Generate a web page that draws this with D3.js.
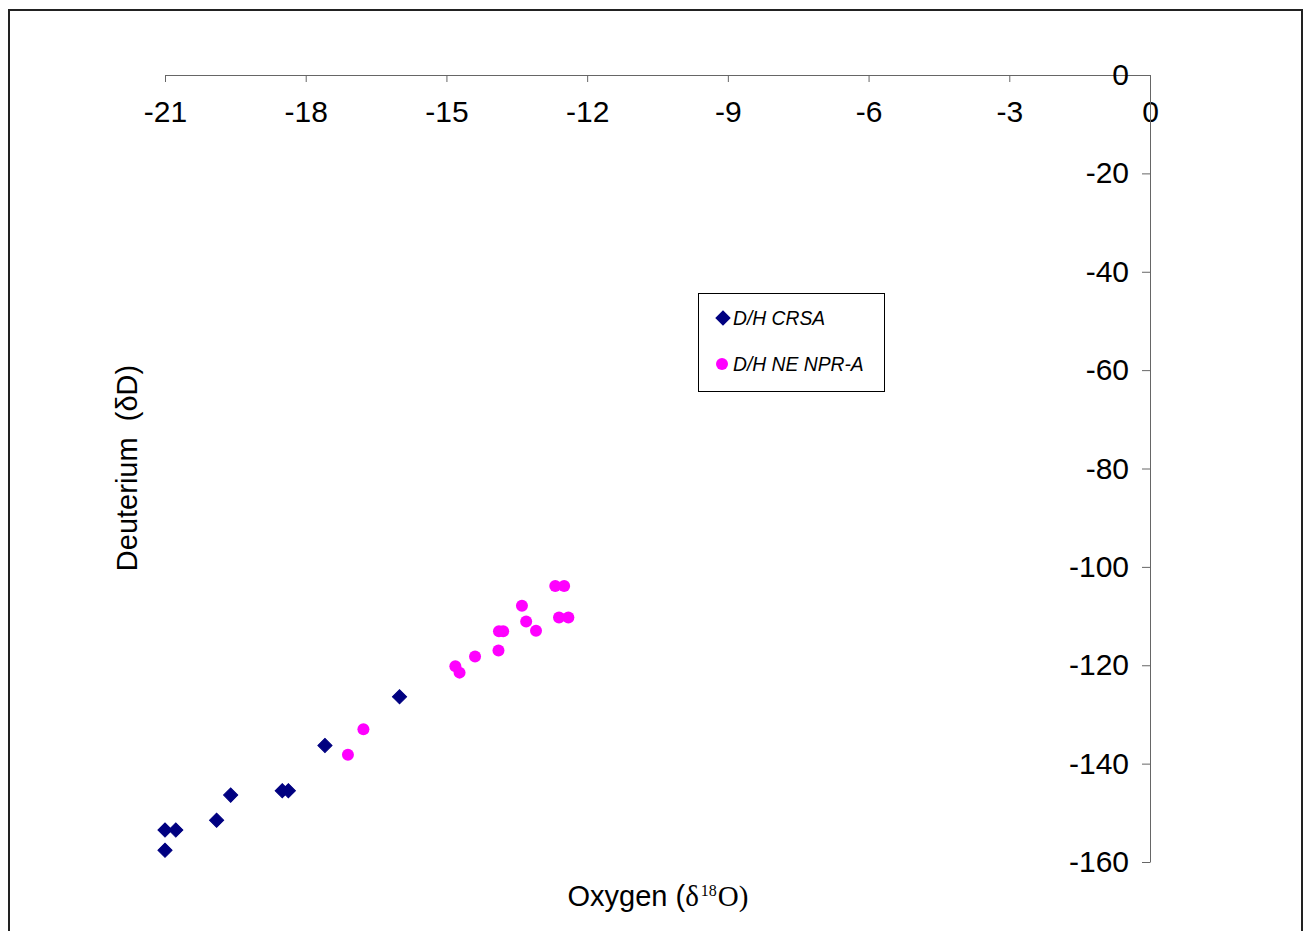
<!DOCTYPE html>
<html>
<head>
<meta charset="utf-8">
<script src="https://cdn.jsdelivr.net/npm/d3@7"></script>
<style>
html,body{margin:0;padding:0;background:#fff;}
svg{display:block;}
text{font-family:"Liberation Sans",Arial,sans-serif;}
</style>
</head>
<body>
<svg id="chart" width="1304" height="931"></svg>
<script>
// Data
const seriesNames = ["D/H CRSA", "D/H NE NPR-A"];
const crsaO = [-21.0, -20.77, -21.0, -19.9, -19.6, -18.5, -18.37, -17.59, -16.0];
const crsaD = [-153.5, -153.5, -157.6, -151.5, -146.4, -145.5, -145.5, -136.3, -126.4];
const nprO = [-17.1, -16.77, -14.81, -14.72, -14.39, -13.89, -13.88, -13.79, -13.39, -13.30, -13.09, -12.68, -12.49, -12.60, -12.40];
const nprD = [-138.2, -133.0, -120.2, -121.5, -118.2, -117.0, -113.1, -113.1, -107.9, -111.1, -113.0, -103.9, -103.9, -110.3, -110.3];
const xTicks = [-21, -18, -15, -12, -9, -6, -3, 0];
const xTickLabels = ["-21", "-18", "-15", "-12", "-9", "-6", "-3", "0"];
const yTicks = [0, -20, -40, -60, -80, -100, -120, -140, -160];
const yTickLabels = ["0", "-20", "-40", "-60", "-80", "-100", "-120", "-140", "-160"];

const svg = d3.select("#chart");

// chart area border
svg.append("rect").attr("x", 9).attr("y", 10).attr("width", 1293).attr("height", 940)
  .attr("fill", "#fff").attr("stroke", "#222").attr("stroke-width", 2);

const x = d3.scaleLinear().domain([-21, 0]).range([165, 1150]);
const y = d3.scaleLinear().domain([0, -160]).range([75, 862]);

const axisColor = "#666";

// X axis at top, ticks pointing down (inward)
const xAxis = d3.axisBottom(x).tickValues(xTicks)
  .tickFormat((d, i) => xTickLabels[i]).tickSize(7).tickSizeOuter(0).tickPadding(19);
const gx = svg.append("g").attr("transform", "translate(0,75)").call(xAxis);
gx.select(".domain").attr("stroke", axisColor);
gx.selectAll(".tick line").attr("stroke", axisColor);
gx.selectAll(".tick text").attr("font-size", 30).attr("fill", "#000")
  .attr("font-family", "Liberation Sans, Arial, sans-serif");

// Y axis at right, ticks pointing left
const yAxis = d3.axisLeft(y).tickValues(yTicks)
  .tickFormat((d, i) => yTickLabels[i]).tickSize(8).tickSizeOuter(0).tickPadding(13);
const gy = svg.append("g").attr("transform", "translate(1150,0)").call(yAxis);
gy.select(".domain").attr("stroke", axisColor);
gy.selectAll(".tick line").attr("stroke", axisColor);
gy.selectAll(".tick text").attr("font-size", 30).attr("fill", "#000")
  .attr("font-family", "Liberation Sans, Arial, sans-serif");

// Markers
const diamond = d3.symbol().type(d3.symbolSquare).size(100);
const crsa = crsaO.map((o, i) => ({o, d: crsaD[i]}));
const npr = nprO.map((o, i) => ({o, d: nprD[i]}));

svg.append("g").selectAll("path").data(crsa).join("path")
  .attr("d", diamond)
  .attr("transform", p => `translate(${x(p.o)},${y(p.d)}) rotate(45)`)
  .attr("fill", "#000080").attr("stroke", "#000080").attr("stroke-width", 1);

svg.append("g").selectAll("circle").data(npr).join("circle")
  .attr("cx", p => x(p.o)).attr("cy", p => y(p.d)).attr("r", 6)
  .attr("fill", "#FF00FF");

// Axis titles
const xt = svg.append("text").attr("x", 658).attr("y", 906).attr("text-anchor", "middle")
  .attr("font-size", 29).attr("fill", "#000");
xt.append("tspan").text("Oxygen (");
xt.append("tspan").attr("font-family", "Liberation Serif, Times New Roman, serif").text("δ");
xt.append("tspan").attr("font-family", "Liberation Serif, Times New Roman, serif")
  .attr("font-size", 16).attr("dy", -10).attr("dx", 2).text("18");
xt.append("tspan").attr("font-family", "Liberation Serif, Times New Roman, serif")
  .attr("dy", 10).attr("dx", 1).text("O)");

svg.append("text").attr("transform", "translate(137,468) rotate(-90)")
  .attr("text-anchor", "middle").attr("font-size", 29).attr("fill", "#000")
  .attr("xml:space", "preserve").style("white-space", "pre")
  .text("Deuterium  (δD)");

// Legend
const lg = svg.append("g");
lg.append("rect").attr("x", 698.5).attr("y", 293.5).attr("width", 186).attr("height", 98)
  .attr("fill", "#fff").attr("stroke", "#000").attr("stroke-width", 1);
lg.append("path").attr("d", diamond)
  .attr("transform", "translate(723,318) rotate(45)")
  .attr("fill", "#000080").attr("stroke", "#000080");
lg.append("circle").attr("cx", 722).attr("cy", 364).attr("r", 6).attr("fill", "#FF00FF");
lg.append("text").attr("x", 733).attr("y", 325).attr("font-size", 19.3)
  .attr("font-style", "italic").attr("fill", "#000").text(seriesNames[0]);
lg.append("text").attr("x", 733).attr("y", 371).attr("font-size", 19.3)
  .attr("font-style", "italic").attr("fill", "#000").text(seriesNames[1]);
</script>
</body>
</html>
